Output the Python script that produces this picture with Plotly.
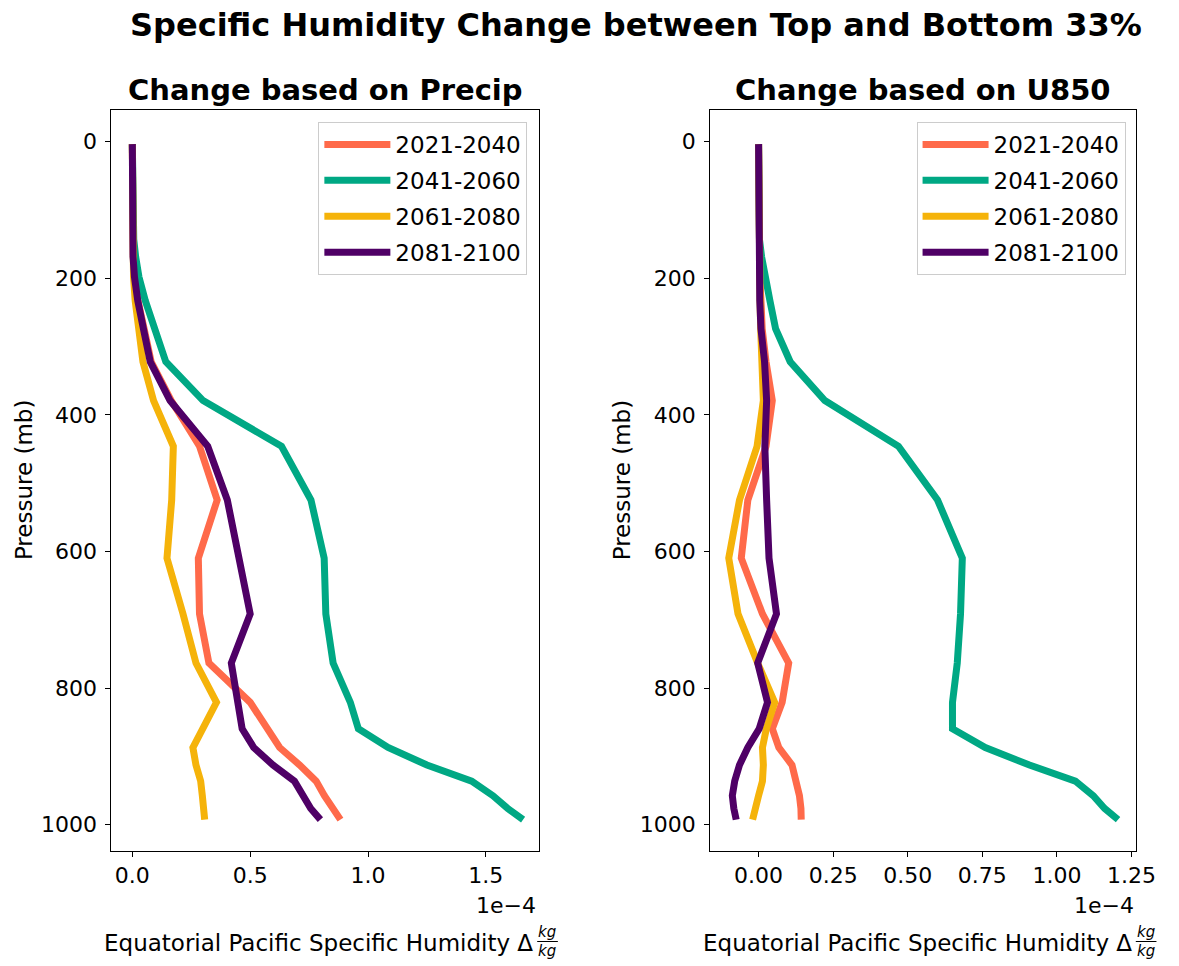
import plotly.graph_objects as go

# Model mid-level pressures (mb)
levels = [3.64, 7.59, 14.36, 24.61, 35.92, 43.19, 51.68, 61.52, 73.75, 87.82,
          103.32, 121.55, 142.99, 168.23, 197.91, 232.83, 273.91, 322.24,
          379.10, 445.99, 524.69, 609.78, 691.39, 763.40, 820.86, 859.53,
          887.02, 912.64, 936.20, 957.49, 976.33, 992.56]

periods = ["2021-2040", "2041-2060", "2061-2080", "2081-2100"]
colors = ["#ff6a4a", "#00a884", "#f5b30a", "#4f0066"]

# Specific humidity change, in units of 1e-4 kg/kg
_top = [0.0] * 12
precip_2021 = _top + [0.002, 0.004, 0.010, 0.024, 0.050, 0.080, 0.165, 0.285, 0.360, 0.280,
                      0.285, 0.325, 0.500, 0.570, 0.625, 0.710, 0.780, 0.815, 0.848, 0.883]
precip_2041 = _top + [0.006, 0.014, 0.028, 0.055, 0.097, 0.142, 0.300, 0.633, 0.758, 0.814,
                      0.821, 0.852, 0.925, 0.959, 1.085, 1.250, 1.440, 1.530, 1.593, 1.658]
precip_2061 = _top + [0.001, 0.002, 0.005, 0.012, 0.029, 0.045, 0.090, 0.174, 0.167, 0.147,
                      0.215, 0.270, 0.357, 0.297, 0.257, 0.270, 0.290, 0.297, 0.300, 0.307]
precip_2081 = _top + [0.001, 0.003, 0.009, 0.023, 0.047, 0.076, 0.160, 0.320, 0.403, 0.452,
                      0.500, 0.420, 0.452, 0.466, 0.515, 0.597, 0.688, 0.723, 0.757, 0.798]

u850_2021 = _top + [0.001, 0.002, 0.004, 0.008, 0.012, 0.025, 0.046, 0.025, -0.036, -0.058,
                    0.013, 0.101, 0.079, 0.046, 0.068, 0.112, 0.128, 0.137, 0.142, 0.143]
u850_2041 = _top + [0.003, 0.010, 0.021, 0.038, 0.057, 0.106, 0.222, 0.469, 0.600, 0.683,
                    0.677, 0.666, 0.650, 0.650, 0.760, 0.908, 1.062, 1.122, 1.160, 1.205]
u850_2061 = _top + [0.001, 0.002, 0.003, 0.005, 0.007, 0.012, 0.016, -0.005, -0.064, -0.100,
                    -0.069, -0.003, 0.054, 0.026, 0.013, 0.016, 0.013, 0.000, -0.009, -0.020]
u850_2081 = _top + [0.000, 0.001, 0.002, 0.004, 0.008, 0.020, 0.027, 0.021, 0.027, 0.035,
                    0.060, -0.003, 0.030, 0.002, -0.036, -0.064, -0.080, -0.088, -0.083, -0.075]

precip_series = [precip_2021, precip_2041, precip_2061, precip_2081]
u850_series = [u850_2021, u850_2041, u850_2061, u850_2081]

W, H = 1179, 966
FONT = "DejaVu Sans"


def px(x):
    return x / W


def py(y):
    return 1 - y / H


fig = go.Figure()
for name, col, vals in zip(periods, colors, precip_series):
    fig.add_trace(go.Scatter(x=vals, y=levels, mode="lines", name=name,
                             legendgroup="p" + name,
                             line=dict(color=col, width=7),
                             xaxis="x", yaxis="y", legend="legend"))
for name, col, vals in zip(periods, colors, u850_series):
    fig.add_trace(go.Scatter(x=vals, y=levels, mode="lines", name=name,
                             legendgroup="u" + name,
                             line=dict(color=col, width=7),
                             xaxis="x2", yaxis="y2", legend="legend2"))

axis_common = dict(showgrid=False, zeroline=False, showline=True, mirror=True,
                   linecolor="black", linewidth=1, ticks="outside", ticklen=5,
                   tickcolor="black", tickfont=dict(family=FONT, size=22, color="black"))

left_dom = [px(113.3), px(548.3)]
right_dom = [px(721.7), px(1155)]
y_dom = [py(851), py(110)]

legend_common = dict(xanchor="right", yanchor="top", bgcolor="white",
                     bordercolor="#cccccc", borderwidth=1, itemwidth=66,
                     tracegroupgap=3,
                     font=dict(family=FONT, size=23, color="black"))

fig.update_layout(
    width=W, height=H, autosize=False,
    margin=dict(l=0, r=0, t=0, b=0),
    paper_bgcolor="white", plot_bgcolor="white",
    font=dict(family=FONT, color="black"),
    xaxis=dict(domain=left_dom, range=[-0.0885, 1.7275], tickvals=[0, 0.5, 1.0, 1.5],
               tickformat=".1f", anchor="y", **axis_common),
    yaxis=dict(domain=y_dom, range=[1038.5, -46.3], tickvals=[0, 200, 400, 600, 800, 1000],
               anchor="x", ticklabelstandoff=4, **axis_common),
    xaxis2=dict(domain=right_dom, range=[-0.1626, 1.2665],
                tickvals=[0, 0.25, 0.5, 0.75, 1.0, 1.25], tickformat=".2f",
                anchor="y2", **axis_common),
    yaxis2=dict(domain=y_dom, range=[1038.5, -46.3], tickvals=[0, 200, 400, 600, 800, 1000],
                anchor="x2", ticklabelstandoff=4, **axis_common),
    legend=dict(x=px(536), y=py(122), **legend_common),
    legend2=dict(x=px(1144), y=py(122), **legend_common),
    showlegend=True,
)

ann = []
ann.append(dict(text="<b>Specific Humidity Change between Top and Bottom 33%</b>",
                x=px(646), y=py(25), xref="paper", yref="paper", showarrow=False,
                xanchor="center", yanchor="middle", font=dict(family=FONT, size=32)))
for cx, title in [((113.3 + 548.3) / 2, "Change based on Precip"),
                  ((721.7 + 1155) / 2, "Change based on U850")]:
    ann.append(dict(text=f"<b>{title}</b>", x=px(cx), y=py(90), xref="paper", yref="paper",
                    showarrow=False, xanchor="center", yanchor="middle",
                    font=dict(family=FONT, size=29)))

shapes = []
for dx, ylab_x, right_edge in [(0, 24, 547), (608.4, 632, 1155)]:
    ann.append(dict(text="Pressure (mb)", x=px(ylab_x), y=py(480.5), xref="paper", yref="paper",
                    showarrow=False, textangle=-90, xanchor="center", yanchor="middle",
                    font=dict(family=FONT, size=23)))
    ann.append(dict(text="1e\u22124", x=px(right_edge), y=py(905), xref="paper", yref="paper",
                    showarrow=False, xanchor="right", yanchor="middle",
                    font=dict(family=FONT, size=22)))
    ann.append(dict(text="Equatorial Pacific Specific Humidity \u0394", x=px(544 + dx), y=py(943),
                    xref="paper", yref="paper", showarrow=False, xanchor="right",
                    yanchor="middle", font=dict(family=FONT, size=23)))
    ann.append(dict(text="<i>kg</i>", x=px(556 + dx), y=py(932), xref="paper", yref="paper",
                    showarrow=False, xanchor="center", yanchor="middle",
                    font=dict(family=FONT, size=15)))
    ann.append(dict(text="<i>kg</i>", x=px(556 + dx), y=py(951), xref="paper", yref="paper",
                    showarrow=False, xanchor="center", yanchor="middle",
                    font=dict(family=FONT, size=15)))
    shapes.append(dict(type="line", xref="paper", yref="paper",
                       x0=px(546 + dx), x1=px(567 + dx), y0=py(941.5), y1=py(941.5),
                       line=dict(color="black", width=1)))

fig.update_layout(annotations=ann, shapes=shapes)
fig.write_html("out.html")
